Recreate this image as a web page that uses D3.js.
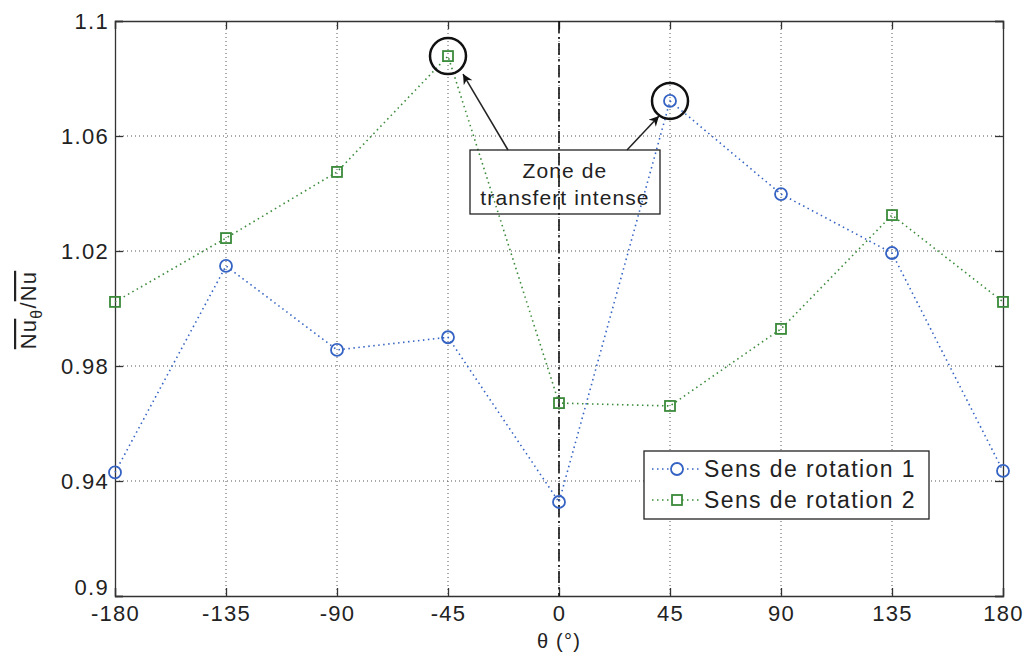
<!DOCTYPE html>
<html><head><meta charset="utf-8">
<script src="https://cdn.jsdelivr.net/npm/d3@7"></script>
<style>body{margin:0;background:#fff}svg text{font-family:"Liberation Sans",Arial,sans-serif;fill:#222}</style>
</head><body><svg id="c" width="1030" height="660"></svg>
<script>
const angles = [-180,-135,-90,-45,0,45,90,135,180];
const sens1 = [0.943,1.0148,0.9856,0.990,0.9327,1.0722,1.0398,1.0193,0.9435];
const sens2 = [1.0023,1.0245,1.0475,1.0878,0.9671,0.9661,0.9929,1.0325,1.0023];
const xTicks = [-180,-135,-90,-45,0,45,90,135,180];
const yTicks = [0.9,0.94,0.98,1.02,1.06,1.1];
const yTickLabels = ["0.9","0.94","0.98","1.02","1.06","1.1"];
const seriesNames = ["Sens de rotation 1","Sens de rotation 2"];
const annotText = ["Zone de","transfert intense"];

const svg = d3.select("#c");
const L=115,R=1003,T=21,B=596;
const x = d3.scaleLinear().domain([-180,180]).range([L,R]);
const y = d3.scaleLinear().domain([0.9,1.1]).range([B,T]);
const blue="#3563c4", green="#3a8a3a";

// grid
svg.append("g").selectAll("line").data(xTicks.slice(1,-1)).join("line")
 .attr("x1",d=>x(d)).attr("x2",d=>x(d)).attr("y1",T).attr("y2",B)
 .attr("stroke","#555").attr("stroke-width",1).attr("stroke-dasharray","1,3");
svg.append("g").selectAll("line").data(yTicks.slice(1,-1)).join("line")
 .attr("x1",L).attr("x2",R).attr("y1",d=>y(d)).attr("y2",d=>y(d))
 .attr("stroke","#555").attr("stroke-width",1).attr("stroke-dasharray","1,3");

// axes
const ax = svg.append("g").attr("transform",`translate(0,${B})`)
 .call(d3.axisBottom(x).tickValues(xTicks).tickSize(-8).tickPadding(9).tickFormat(d=>String(d)));
const ay = svg.append("g").attr("transform",`translate(${L},0)`)
 .call(d3.axisLeft(y).tickValues(yTicks).tickSize(-8).tickPadding(6).tickFormat((d,i)=>yTickLabels[i]));
svg.append("g").attr("transform",`translate(0,${T})`)
 .call(d3.axisTop(x).tickValues(xTicks).tickSize(-8).tickFormat(""));
svg.append("g").attr("transform",`translate(${R},0)`)
 .call(d3.axisRight(y).tickValues(yTicks).tickSize(-8).tickFormat(""));
svg.selectAll(".domain").attr("stroke","#333").attr("stroke-width",1.3);
svg.selectAll(".tick line").attr("stroke","#333").attr("stroke-width",1.3);
svg.selectAll(".tick text").attr("font-size",22).attr("letter-spacing",1.3).style("fill","#222");
ay.selectAll(".tick text").filter(d=>d===0.9).attr("dy","-0.05em");

// vertical dash-dot at 0
svg.append("line").attr("x1",x(0)).attr("x2",x(0)).attr("y1",T).attr("y2",B)
 .attr("stroke","#111").attr("stroke-width",1.6).attr("stroke-dasharray","12,4,2,4");

// series
const line = d3.line().x((d,i)=>x(angles[i])).y(d=>y(d));
svg.append("path").datum(sens1).attr("d",line).attr("fill","none").attr("stroke",blue)
 .attr("stroke-width",1.6).attr("stroke-dasharray","1.5,3.5");
svg.append("path").datum(sens2).attr("d",line).attr("fill","none").attr("stroke",green)
 .attr("stroke-width",1.6).attr("stroke-dasharray","1.5,3.5");
svg.append("g").selectAll("circle").data(sens1).join("circle")
 .attr("cx",(d,i)=>x(angles[i])).attr("cy",d=>y(d)).attr("r",6)
 .attr("fill","none").attr("stroke",blue).attr("stroke-width",1.8);
svg.append("g").selectAll("rect").data(sens2).join("rect")
 .attr("x",(d,i)=>x(angles[i])-5).attr("y",d=>y(d)-5).attr("width",10).attr("height",10)
 .attr("fill","none").attr("stroke",green).attr("stroke-width",1.8);

// annotations
svg.append("defs").append("marker").attr("id","ah").attr("viewBox","0 0 10 10")
 .attr("refX",10).attr("refY",5).attr("markerWidth",14).attr("markerHeight",10)
 .attr("markerUnits","userSpaceOnUse").attr("orient","auto")
 .append("path").attr("d","M0,0 L10,5 L0,10 L3,5 Z").attr("fill","#111");
[[ -45, sens2[3]],[45, sens1[5]]].forEach(p=>{
 svg.append("circle").attr("cx",x(p[0])).attr("cy",y(p[1])).attr("r",18)
  .attr("fill","none").attr("stroke","#111").attr("stroke-width",2.5);
});
svg.append("line").attr("x1",508).attr("y1",150).attr("x2",x(-45)+15).attr("y2",y(sens2[3])+18)
 .attr("stroke","#222").attr("stroke-width",1.5).attr("marker-end","url(#ah)");
svg.append("line").attr("x1",627).attr("y1",150).attr("x2",x(45)-11).attr("y2",y(sens1[5])+15)
 .attr("stroke","#222").attr("stroke-width",1.5).attr("marker-end","url(#ah)");
svg.append("rect").attr("x",470).attr("y",150).attr("width",190).attr("height",64)
 .attr("fill","none").attr("stroke","#222").attr("stroke-width",1.3);
svg.append("text").attr("x",565).attr("y",178).attr("text-anchor","middle").attr("font-size",21).attr("letter-spacing",1.1).text(annotText[0]);
svg.append("text").attr("x",565).attr("y",205).attr("text-anchor","middle").attr("font-size",21).attr("letter-spacing",1.1).text(annotText[1]);

// legend
const lg = svg.append("g");
lg.append("rect").attr("x",644).attr("y",451).attr("width",285).attr("height",68)
 .attr("fill","#fff").attr("stroke","#222").attr("stroke-width",1.3);
[0,1].forEach(i=>{
 const yy = 469+i*31, col = i?green:blue;
 lg.append("line").attr("x1",652).attr("x2",700).attr("y1",yy).attr("y2",yy)
  .attr("stroke",col).attr("stroke-width",1.6).attr("stroke-dasharray","1.5,3.5");
 if(i===0) lg.append("circle").attr("cx",677).attr("cy",yy).attr("r",6).attr("fill","#fff").attr("stroke",col).attr("stroke-width",1.8);
 else lg.append("rect").attr("x",672).attr("y",yy-5).attr("width",10).attr("height",10).attr("fill","#fff").attr("stroke",col).attr("stroke-width",1.8);
 lg.append("text").attr("x",704).attr("y",yy+8).attr("font-size",23).attr("letter-spacing",1.4).text(seriesNames[i]);
});

// axis labels
svg.append("text").attr("x",x(0)).attr("y",648).attr("text-anchor","middle").attr("font-size",20).attr("letter-spacing",1.2).text("θ (°)");
const yl = svg.append("text").attr("transform","translate(36,310) rotate(-90)").attr("text-anchor","middle").attr("font-size",22).attr("letter-spacing",1.2);
yl.append("tspan").attr("text-decoration","overline").text("Nu");
yl.append("tspan").attr("font-size",16).attr("dy",6).text("θ");
yl.append("tspan").attr("dy",-6).text("/");
yl.append("tspan").attr("text-decoration","overline").text("Nu");
</script></body></html>
